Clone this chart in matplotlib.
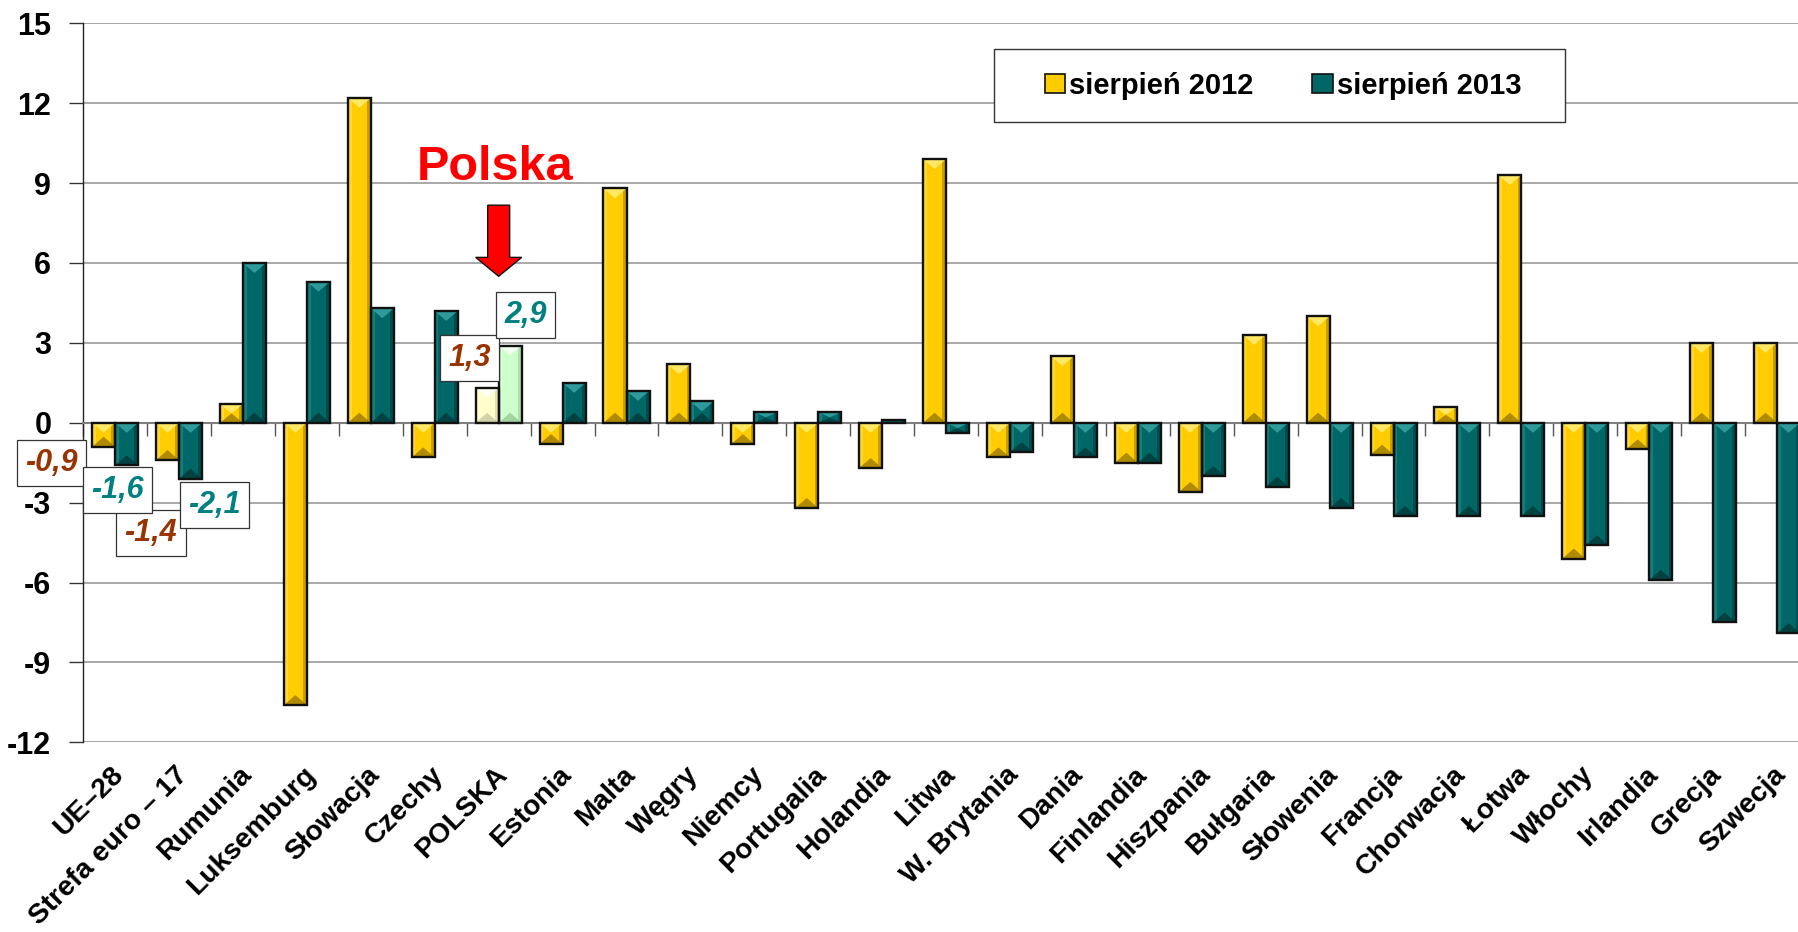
import numpy as np
import matplotlib
matplotlib.use('Agg')
import matplotlib.pyplot as plt
from matplotlib.patches import Polygon, Rectangle, FancyArrow

plt.rcParams['font.family'] = ['Liberation Sans', 'DejaVu Sans']

# data
countries = ['UE\u201328', 'Strefa euro \u2013 17', 'Rumunia', 'Luksemburg', 'Słowacja', 'Czechy',
             'POLSKA', 'Estonia', 'Malta', 'Węgry', 'Niemcy', 'Portugalia', 'Holandia', 'Litwa',
             'W. Brytania', 'Dania', 'Finlandia', 'Hiszpania', 'Bułgaria', 'Słowenia', 'Francja',
             'Chorwacja', 'Łotwa', 'Włochy', 'Irlandia', 'Grecja', 'Szwecja']
aug_2012 = [-0.9, -1.4, 0.7, -10.6, 12.2, -1.3, 1.3, -0.8, 8.8, 2.2, -0.8, -3.2, -1.7, 9.9,
            -1.3, 2.5, -1.5, -2.6, 3.3, 4.0, -1.2, 0.6, 9.3, -5.1, -1.0, 3.0, 3.0]
aug_2013 = [-1.6, -2.1, 6.0, 5.3, 4.3, 4.2, 2.9, 1.5, 1.2, 0.8, 0.4, 0.4, 0.1, -0.4,
            -1.1, -1.3, -1.5, -2.0, -2.4, -3.2, -3.5, -3.5, -3.5, -4.6, -5.9, -7.5, -7.9]
series_names = ['sierpień 2012', 'sierpień 2013']
yticks = [-12, -9, -6, -3, 0, 3, 6, 9, 12, 15]

# which bars get a value box, and where the box sits relative to the bar
labelled = [0, 1, 6]
box_off_2012 = [(-0.81, -0.61), (-0.26, -2.74), (-0.28, 1.13)]
box_off_2013 = [(-0.14, -0.93), (0.37, -0.99), (0.24, 1.14)]

YELLOW = ('#FFCC00', '#FFE866', '#9C7A00')
TEAL = ('#006666', '#2E9A9A', '#003A3A')
PL_2012 = ('#FFFFCC', '#FFFFF0', '#C8C8A0')
PL_2013 = ('#CCFFCC', '#F0FFF0', '#98C898')

fig = plt.figure(figsize=(17.98, 9.32), dpi=100)
ax = fig.add_axes([83.2 / 1798, 0.2035, 1725.8 / 1798, 0.7715])
ax.set_xlim(-0.5, len(countries) - 0.5)
ax.set_ylim(-12, 15)

x = np.arange(len(countries))
w = 0.36
pl = countries.index('POLSKA')

c12 = [YELLOW[0]] * len(x)
c13 = [TEAL[0]] * len(x)
c12[pl] = PL_2012[0]
c13[pl] = PL_2013[0]

b12 = ax.bar(x - w / 2, aug_2012, w, color=c12, edgecolor='none', zorder=3)
b13 = ax.bar(x + w / 2, aug_2013, w, color=c13, edgecolor='none', zorder=3)

# bevel look: light triangle on top, dark one at the bottom, shaded sides
upp = 27 / (0.7715 * 932)  # data units per pixel (y)


def bevel(rects, styles):
    for r, (base, light, dark) in zip(rects, styles):
        x0 = r.get_x()
        bw = r.get_width()
        x1 = x0 + bw
        xc = x0 + bw / 2
        y0 = r.get_y()
        h = r.get_height()
        top, bot = max(y0, y0 + h), min(y0, y0 + h)
        d = min(10 * upp, (top - bot) / 2)
        sw = bw * 0.16
        ax.add_patch(Rectangle((x0, bot), sw, top - bot, fc=light, ec='none', alpha=0.45, zorder=3.1))
        ax.add_patch(Rectangle((x1 - sw, bot), sw, top - bot, fc=dark, ec='none', alpha=0.55, zorder=3.1))
        ax.add_patch(Polygon([(x0, top), (x1, top), (xc, top - d)], closed=True,
                             fc=light, ec='none', zorder=3.2))
        ax.add_patch(Polygon([(x0, bot), (x1, bot), (xc, bot + d)], closed=True,
                             fc=dark, ec='none', alpha=0.8, zorder=3.2))


st12 = [YELLOW] * len(x)
st13 = [TEAL] * len(x)
st12[pl] = PL_2012
st13[pl] = PL_2013
bevel(b12, st12)
bevel(b13, st13)

# outlines on top
ax.bar(x - w / 2, aug_2012, w, fill=False, edgecolor='#111111', linewidth=1.7, zorder=3.5)
ax.bar(x + w / 2, aug_2013, w, fill=False, edgecolor='#111111', linewidth=1.7, zorder=3.5)

# axes styling
ax.set_yticks(yticks)
ax.set_yticklabels([str(t) for t in yticks], fontsize=22, fontweight='bold')
ax.tick_params(axis='y', length=10, width=1, pad=13, color='#333333')
ax.yaxis.grid(True, color='#999999', linewidth=1.2)
ax.set_axisbelow(True)
for s in ['top', 'right']:
    ax.spines[s].set_visible(False)
ax.spines['left'].set_color('#222222')
ax.spines['left'].set_linewidth(1.0)
ax.spines['bottom'].set_position(('data', 0))
ax.spines['bottom'].set_color('#808080')
ax.spines['bottom'].set_linewidth(1.5)
ax.spines['bottom'].set_zorder(2.5)
ax.set_xticks(x)
ax.set_xticklabels([])
ax.tick_params(axis='x', which='major', length=0)
ax.set_xticks(np.arange(-0.5, len(countries)), minor=True)
ax.tick_params(axis='x', which='minor', length=9, width=1, color='#555555', direction='out')

for i, name in enumerate(countries):
    ax.text(i - 0.07, -0.027, name, transform=ax.get_xaxis_transform(), rotation=45,
            rotation_mode='anchor', ha='right', va='top', fontsize=20.3, fontweight='bold')

# value boxes
def fmt(v):
    return f'{v:.1f}'.replace('.', ',')


for i, (dx, dy) in zip(labelled, box_off_2012):
    ax.text(x[i] - w / 2 + dx, aug_2012[i] + dy, fmt(aug_2012[i]), ha='center', va='center',
            fontsize=22, fontweight='bold', fontstyle='italic', color='#993300', zorder=6,
            bbox=dict(boxstyle='square,pad=0.27', fc='white', ec='#333333', lw=0.9))
for i, (dx, dy) in zip(labelled, box_off_2013):
    ax.text(x[i] + w / 2 + dx, aug_2013[i] + dy, fmt(aug_2013[i]), ha='center', va='center',
            fontsize=22, fontweight='bold', fontstyle='italic', color='#008080', zorder=7,
            bbox=dict(boxstyle='square,pad=0.27', fc='white', ec='#333333', lw=0.9))

# Polska marker
ax.text(pl - 0.06, 9.11, 'Polska', ha='center', va='baseline', fontsize=35,
        fontweight='bold', color='#FF0000', zorder=6)
ax.add_patch(FancyArrow(pl, 8.17, 0, -2.67, width=0.344, head_width=0.72, head_length=0.71,
                        length_includes_head=True, fc='#FF0000', ec='#111111', lw=1.0, zorder=6))

# legend
fig.patches.append(Rectangle((994 / 1798, 1 - 122 / 932), 571 / 1798, 73 / 932,
                             transform=fig.transFigure, fc='white', ec='#333333', lw=1.0, zorder=5))
handles = [Rectangle((0, 0), 1, 1, fc=YELLOW[0], ec='#111111', lw=1.2),
           Rectangle((0, 0), 1, 1, fc=TEAL[0], ec='#111111', lw=1.2)]
leg = fig.legend(handles, series_names, loc='center', bbox_to_anchor=(1283 / 1798, 1 - 85.5 / 932),
                 ncol=2, frameon=False, prop={'size': 21, 'weight': 'bold'},
                 columnspacing=2.0, handlelength=0.7, handleheight=0.65, handletextpad=0.15)
leg.set_zorder(6)

fig.savefig('out.png', dpi=100)
